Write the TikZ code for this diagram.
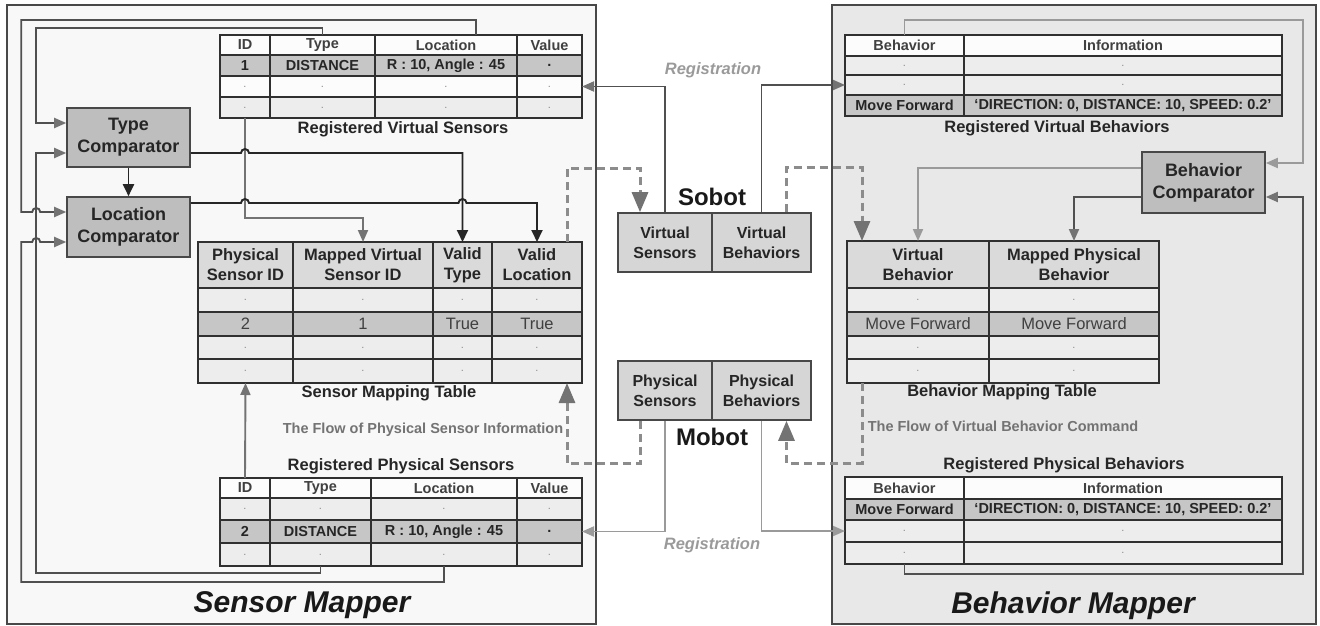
\documentclass[tikz,border=0pt]{standalone}
\usepackage{fontspec}
\setmainfont{Liberation Sans}
\usetikzlibrary{%
  arrows.meta,%
  calc%
}

\definecolor{smfill}{HTML}{F8F8F8}
\definecolor{bmfill}{HTML}{E8E8E8}
\definecolor{frameline}{HTML}{484848}
\definecolor{cmpfill}{HTML}{BEBEBE}
\definecolor{botfill}{HTML}{D6D6D6}
\definecolor{rowdark}{HTML}{C6C6C6}
\definecolor{rowlight}{HTML}{EDEDED}
\definecolor{rowwhite}{HTML}{FCFCFC}
\definecolor{hdrgray}{HTML}{DADADA}
\definecolor{cellline}{HTML}{303030}
\definecolor{txtdark}{HTML}{262626}
\definecolor{flowgray}{HTML}{8C8C8C}
\definecolor{linedark}{HTML}{505050}
\definecolor{linemid}{HTML}{737373}
\definecolor{linelight}{HTML}{9A9A9A}

% one table row: name, top, bottom, style, x1/x2/text list
\newcommand{\tabrow}[5]{%
  \foreach \xa/\xb/\txt [count=\j] in {#5}
    \node[cell,#4,minimum width={(\xb-\xa)*1pt},minimum height={(#3-#2)*1pt}]
      (#1-\j) at ({(\xa+\xb)/2},{(#2+#3)/2}) {\txt};%
}

\tikzset{
  mapper/.style={draw=frameline, line width=1.6pt, inner sep=0pt},
  maplabel/.style={font=\bfseries\itshape\fontsize{30}{32}\selectfont, text=black!90},
  cmp/.style={draw=frameline, line width=1.6pt, fill=cmpfill, align=center, inner sep=0pt,
    font=\bfseries\fontsize{18}{22}\selectfont, text=txtdark},
  bot/.style={draw=frameline, line width=1.6pt, fill=botfill, align=center, inner sep=0pt,
    font=\bfseries\fontsize{16}{20}\selectfont, text=txtdark},
  botlabel/.style={font=\bfseries\fontsize{24}{26}\selectfont, text=black!90},
  cell/.style={draw=cellline, line width=1.4pt, inner sep=0pt, outer sep=0pt, align=center,
    text=txtdark, font=\bfseries\fontsize{14.5}{16}\selectfont},
  hdr/.style={fill=rowwhite, text=black!75},
  mhdr/.style={fill=hdrgray, font=\bfseries\fontsize{16.5}{20}\selectfont},
  mrow/.style={font=\fontsize{16.5}{18}\selectfont, text=black!75},
  dotrow/.style={text=flowgray, font=\fontsize{11}{12}\selectfont},
  capt/.style={font=\bfseries\fontsize{16.5}{18}\selectfont, text=txtdark},
  flow/.style={font=\bfseries\fontsize{14.5}{16}\selectfont, text=linemid},
  regtext/.style={font=\bfseries\itshape\fontsize{16.5}{18}\selectfont, text=linelight},
  gln/.style={draw=linedark, line width=1.9pt, -{Triangle[length=12pt,width=10pt,color=linemid]}},
  gln2/.style={draw=linemid, line width=1.9pt, -{Triangle[length=12pt,width=10pt,color=linemid]}},
  lln/.style={draw=linelight, line width=1.9pt, -{Triangle[length=12pt,width=10pt,color=linelight]}},
  blk/.style={draw=black!85, line width=1.9pt, -{Triangle[length=12pt,width=11pt]}},
  dsh/.style={draw=flowgray, line width=3pt, dash pattern=on 8pt off 5pt,
    -{Triangle[length=20pt,width=16pt,color=linemid]}}
}

\begin{document}
\begin{tikzpicture}[x=1pt,y=-1pt]
  \useasboundingbox (0,0) rectangle (1320,626);

  \node[mapper, fill=smfill, minimum width=589pt, minimum height=619pt] (sm) at (301.5,314.5) {};
  \node[mapper, fill=bmfill, minimum width=484pt, minimum height=619pt] (bm) at (1074,314.5) {};
  \node[maplabel] (sm-lbl) at (302,605) {Sensor Mapper};
  \node[maplabel] (bm-lbl) at (1073,606) {Behavior Mapper};

  \node[cmp, minimum width=123pt, minimum height=59pt] (tc) at (128.5,137.5) {Type\\Comparator};
  \node[cmp, minimum width=123pt, minimum height=60pt] (lc) at (128.5,227) {Location\\Comparator};
  \node[cmp, minimum width=123pt, minimum height=61pt] (bc) at (1203.5,182.5) {Behavior\\Comparator};

  \node[bot, minimum width=94pt, minimum height=59pt] (vs) at (665,242.5) {Virtual\\Sensors};
  \node[bot, minimum width=99pt, minimum height=59pt] (vb) at (761.5,242.5) {Virtual\\Behaviors};
  \node[bot, minimum width=94pt, minimum height=59pt] (ps) at (665,390.5) {Physical\\Sensors};
  \node[bot, minimum width=99pt, minimum height=59pt] (pb) at (761.5,390.5) {Physical\\Behaviors};
  \node[botlabel] (sobot) at (712,197) {Sobot};
  \node[botlabel] (mobot) at (712,437) {Mobot};
  \node[regtext] (reg-top) at (713,70) {Registration};
  \node[regtext] (reg-bot) at (712,545) {Registration};

  % registered virtual sensors
  \tabrow{rvs-1}{35}{55}{hdr}{220/270/ID, 270/375/Type, 375/517/Location, 517/582/Value}
  \tabrow{rvs-2}{55}{76}{fill=rowdark}{220/270/1, 270/375/DISTANCE, 375/517/{R : 10, Angle : 45}, 517/582/.}
  \tabrow{rvs-3}{76}{97}{fill=rowwhite,dotrow}{220/270/., 270/375/., 375/517/., 517/582/.}
  \tabrow{rvs-4}{97}{118}{fill=rowlight,dotrow}{220/270/., 270/375/., 375/517/., 517/582/.}
  \node[capt] (rvs-cap) at (403,129) {Registered Virtual Sensors};

  % sensor mapping table
  \tabrow{smt-1}{242}{288}{mhdr}{198/293/Physical\\Sensor ID, 293/433/Mapped Virtual\\Sensor ID, 433/492/Valid\\Type, 492/582/Valid\\Location}
  \tabrow{smt-2}{288}{312}{fill=rowlight,dotrow}{198/293/., 293/433/., 433/492/., 492/582/.}
  \tabrow{smt-3}{312}{336}{fill=rowdark,mrow}{198/293/2, 293/433/1, 433/492/True, 492/582/True}
  \tabrow{smt-4}{336}{359}{fill=rowlight,dotrow}{198/293/., 293/433/., 433/492/., 492/582/.}
  \tabrow{smt-5}{359}{383}{fill=rowlight,dotrow}{198/293/., 293/433/., 433/492/., 492/582/.}
  \node[capt] (smt-cap) at (389,393) {Sensor Mapping Table};
  \node[flow] (s-flow) at (423,430) {The Flow of Physical Sensor Information};

  % registered physical sensors
  \node[capt] (rps-cap) at (401,466) {Registered Physical Sensors};
  \tabrow{rps-1}{478}{498}{hdr}{220/270/ID, 270/371/Type, 371/517/Location, 517/582/Value}
  \tabrow{rps-2}{498}{520}{fill=rowlight,dotrow}{220/270/., 270/371/., 371/517/., 517/582/.}
  \tabrow{rps-3}{520}{543}{fill=rowdark}{220/270/2, 270/371/DISTANCE, 371/517/{R : 10, Angle : 45}, 517/582/.}
  \tabrow{rps-4}{543}{566}{fill=rowlight,dotrow}{220/270/., 270/371/., 371/517/., 517/582/.}

  % registered virtual behaviors
  \tabrow{rvb-1}{35}{56}{hdr}{845/964/Behavior, 964/1282/Information}
  \tabrow{rvb-2}{56}{75}{fill=rowlight,dotrow}{845/964/., 964/1282/.}
  \tabrow{rvb-3}{75}{95}{fill=rowlight,dotrow}{845/964/., 964/1282/.}
  \tabrow{rvb-4}{95}{116}{fill=rowdark}{845/964/Move Forward, 964/1282/{`DIRECTION: 0, DISTANCE: 10, SPEED: 0.2'}}
  \node[capt] (rvb-cap) at (1057,128) {Registered Virtual Behaviors};

  % behavior mapping table
  \tabrow{bmt-1}{241}{288}{mhdr}{847/989/Virtual\\Behavior, 989/1159/Mapped Physical\\Behavior}
  \tabrow{bmt-2}{288}{312}{fill=rowlight,dotrow}{847/989/., 989/1159/.}
  \tabrow{bmt-3}{312}{336}{fill=rowdark,mrow}{847/989/Move Forward, 989/1159/Move Forward}
  \tabrow{bmt-4}{336}{359}{fill=rowlight,dotrow}{847/989/., 989/1159/.}
  \tabrow{bmt-5}{359}{383}{fill=rowlight,dotrow}{847/989/., 989/1159/.}
  \node[capt] (bmt-cap) at (1002,392) {Behavior Mapping Table};
  \node[flow] (b-flow) at (1003,426) {The Flow of Virtual Behavior Command};

  % registered physical behaviors
  \node[capt] (rpb-cap) at (1064,465) {Registered Physical Behaviors};
  \tabrow{rpb-1}{477}{499}{hdr}{845/964/Behavior, 964/1282/Information}
  \tabrow{rpb-2}{499}{520}{fill=rowdark}{845/964/Move Forward, 964/1282/{`DIRECTION: 0, DISTANCE: 10, SPEED: 0.2'}}
  \tabrow{rpb-3}{520}{542}{fill=rowlight,dotrow}{845/964/., 964/1282/.}
  \tabrow{rpb-4}{542}{564}{fill=rowlight,dotrow}{845/964/., 964/1282/.}

  % sensor mapper wiring
  \coordinate (tc-out) at ($(tc.east)+(0,15.5)$);
  \coordinate (lc-out) at ($(lc.east)+(0,-24)$);
  \draw[gln] (rvs-1-2.north) -- ++(0,-7) -| ($(tc.west)+(-30,-14.5)$) -- ($(tc.west)+(0,-14.5)$);
  \draw[gln] (rps-4-2.south) -- ++(0,7) -| ($(tc.west)+(-30,15.5)$) -- ($(tc.west)+(0,15.5)$);
  \draw[gln] ($(rvs-1-3.north)+(30,0)$) -- ++(0,-15) -| ($(lc.west)+(-45,-15)$)
    -- ($(lc.west)+(-34,-15)$) arc (180:360:4) -- ($(lc.west)+(0,-15)$);
  \draw[gln] (rps-4-3.south) -- ++(0,16) -| ($(lc.west)+(-45,15)$)
    -- ($(lc.west)+(-34,15)$) arc (180:360:4) -- ($(lc.west)+(0,15)$);
  \draw[gln2] (rvs-4-1.south) -- ++(0,100) -| (smt-1-2.north);
  \draw[gln2] (rps-1-1.north) -- (smt-5-1.south);
  \draw[blk] (tc.south) -- (lc.north);
  \draw[blk] (tc-out) -- ($(tc-out -| rvs-4-1.south)+(-4,0)$) arc (180:360:4)
    -- (tc-out -| smt-1-3.north) -- (smt-1-3.north);
  \draw[blk] (lc-out) -- ($(lc-out -| rvs-4-1.south)+(-4,0)$) arc (180:360:4)
    -- ($(lc-out -| smt-1-3.north)+(-4,0)$) arc (180:360:4)
    -- (lc-out -| smt-1-4.north) -- (smt-1-4.north);

  % registration
  \draw[gln] (vs.north) |- (rvs-3-4.east);
  \draw[gln] (vb.north) |- (rvb-3-1.west);
  \draw[lln] (ps.south) |- (rps-3-4.east);
  \draw[lln] (pb.south) |- (rpb-3-1.west);

  % flows
  \draw[dsh] ($(smt-1-4.north)+(30,0)$) -- ++(0,-74) -| ($(vs.north)+(-25,0)$);
  \draw[dsh] ($(ps.south)+(-25,0)$) -- ++(0,43) -| ($(smt-5-4.south)+(30,0)$);
  \draw[dsh] ($(vb.north)+(25,0)$) -- ++(0,-45) -| ($(bmt-1-1.north)+(-56,0)$);
  \draw[dsh] ($(bmt-5-1.south)+(-56,0)$) -- ++(0,80) -| ($(pb.south)+(25,0)$);

  % behavior mapper wiring
  \draw[lln] (rvb-1-1.north) -- ++(0,-15) -| ($(bc.east)+(37,-19.5)$) -- ($(bc.east)+(0,-19.5)$);
  \draw[gln] (rpb-4-1.south) -- ++(0,10) -| ($(bc.east)+(37,14.5)$) -- ($(bc.east)+(0,14.5)$);
  \draw[lln] ($(bc.west)+(0,-14.5)$) -| (bmt-1-1.north);
  \draw[gln] ($(bc.west)+(0,14.5)$) -| (bmt-1-2.north);
\end{tikzpicture}
\end{document}
